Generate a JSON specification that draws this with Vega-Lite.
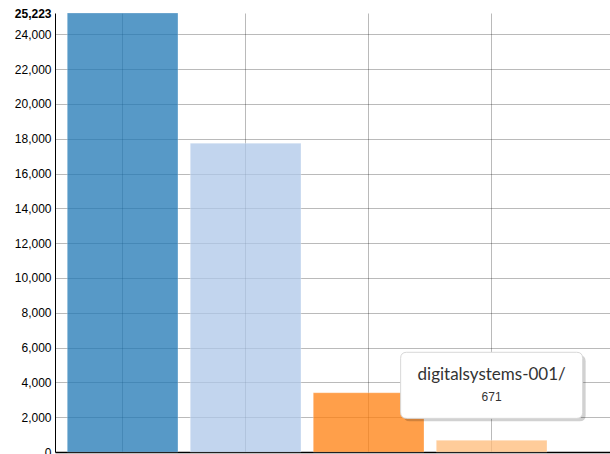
{
  "$schema": "https://vega.github.io/schema/vega-lite/v6.json",
  "width": 555,
  "height": 439,
  "autosize": {"type": "none"},
  "padding": {"left": 55, "top": 13, "right": 0, "bottom": 2},
  "background": "white",
  "config": {"view": {"stroke": null}},
  "data": {
    "values": [
      {"name": "digitalsystems-004/", "value": 25223},
      {"name": "digitalsystems-003/", "value": 17740},
      {"name": "digitalsystems-002/", "value": 3405},
      {"name": "digitalsystems-001/", "value": 671}
    ]
  },
  "encoding": {
    "x": {
      "field": "name",
      "type": "nominal",
      "sort": null,
      "scale": {"paddingInner": 0.1, "paddingOuter": 0.306, "align": 0.163},
      "axis": {
        "title": null,
        "labels": false,
        "ticks": false,
        "grid": true,
        "bandPosition": 0.5,
        "gridColor": "#000",
        "gridOpacity": 0.27,
        "domainColor": "#000",
        "domainWidth": 1.5
      }
    },
    "y": {
      "field": "value",
      "type": "quantitative",
      "scale": {"domain": [0, 25223], "nice": false, "zero": true},
      "axis": {
        "title": null,
        "values": [0, 2000, 4000, 6000, 8000, 10000, 12000, 14000, 16000, 18000, 20000, 22000, 24000, 25223],
        "format": ",d",
        "ticks": false,
        "labelPadding": 4,
        "labelFont": "Liberation Sans",
        "labelFontSize": 12,
        "labelColor": "#000",
        "labelFontWeight": {"condition": {"test": "datum.value == 25223", "value": "bold"}, "value": "normal"},
        "labelBaseline": "middle",
        "grid": true,
        "gridColor": "#000",
        "gridOpacity": {"condition": {"test": "datum.value == 25223 || datum.value == 0", "value": 0}, "value": 0.27},
        "domainColor": "#000",
        "domainWidth": 1
      }
    }
  },
  "layer": [
    {
      "mark": {"type": "bar", "fillOpacity": 0.75, "strokeWidth": 1, "strokeOpacity": 0.25},
      "encoding": {
        "color": {
          "field": "name",
          "type": "nominal",
          "sort": null,
          "scale": {"range": ["#1f77b4", "#aec7e8", "#ff7f0e", "#ffbb78"]},
          "legend": null
        },
        "stroke": {"value": "#ffffff"}
      }
    },
    {
      "transform": [{"filter": "datum.name == 'digitalsystems-001/'"}],
      "mark": {
        "type": "point",
        "filled": true,
        "shape": "M-0.934,-0.363L0.934,-0.363Q1,-0.363 1,-0.297L1,0.297Q1,0.363 0.934,0.363L-0.934,0.363Q-1,0.363 -1,0.297L-1,-0.297Q-1,-0.363 -0.934,-0.363Z",
        "size": 33124,
        "color": "#000",
        "opacity": 0.18,
        "xOffset": 3,
        "yOffset": -52
      }
    },
    {
      "transform": [{"filter": "datum.name == 'digitalsystems-001/'"}],
      "mark": {
        "type": "point",
        "filled": true,
        "shape": "M-0.934,-0.363L0.934,-0.363Q1,-0.363 1,-0.297L1,0.297Q1,0.363 0.934,0.363L-0.934,0.363Q-1,0.363 -1,0.297L-1,-0.297Q-1,-0.363 -0.934,-0.363Z",
        "size": 33124,
        "fill": "#ffffff",
        "stroke": "#d8d8d8",
        "strokeWidth": 1,
        "opacity": 1,
        "yOffset": -55
      }
    },
    {
      "transform": [{"filter": "datum.name == 'digitalsystems-001/'"}],
      "mark": {
        "type": "text",
        "font": "Lato",
        "fontSize": 17,
        "color": "#333333",
        "baseline": "middle",
        "align": "center",
        "yOffset": -65
      },
      "encoding": {"text": {"field": "name"}}
    },
    {
      "transform": [{"filter": "datum.name == 'digitalsystems-001/'"}],
      "mark": {
        "type": "text",
        "font": "Liberation Sans",
        "fontSize": 12,
        "color": "#333333",
        "baseline": "middle",
        "align": "center",
        "yOffset": -43
      },
      "encoding": {"text": {"field": "value", "format": ",d"}}
    }
  ]
}
